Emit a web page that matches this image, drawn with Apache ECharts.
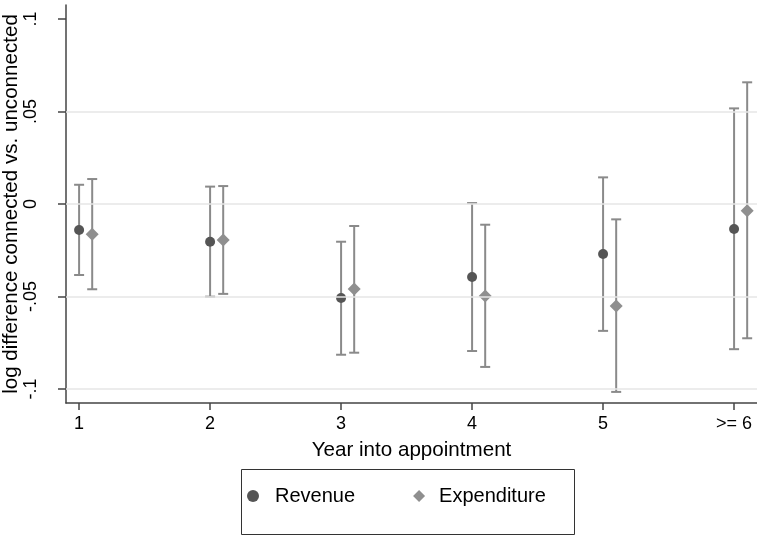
<!DOCTYPE html>
<html>
<head>
<meta charset="utf-8">
<script src="https://cdn.jsdelivr.net/npm/echarts@6/dist/echarts.min.js"></script>
<style>
html,body{margin:0;padding:0;background:#fff;}
#chart{width:757px;height:536px;}
</style>
</head>
<body>
<div id="chart"></div>
<script>
// ---- data ----
const categories = ['1', '2', '3', '4', '5', '>= 6'];
const revenue      = [-0.0141, -0.0204, -0.0508, -0.0395, -0.0270, -0.0135];
const revenueLow   = [-0.0384, -0.0501, -0.0815, -0.0795, -0.0686, -0.0785];
const revenueHigh  = [ 0.0104,  0.0094, -0.0204,  0.0005,  0.0144,  0.0517];
const expenditure     = [-0.0164, -0.0195, -0.0459, -0.0497, -0.0551, -0.0036];
const expenditureLow  = [-0.0461, -0.0486, -0.0804, -0.0881, -0.1016, -0.0726];
const expenditureHigh = [ 0.0135,  0.0097, -0.0119, -0.0112, -0.0083,  0.0658];
const yTickValues = [-0.1, -0.05, 0, 0.05, 0.1];
const yTickLabels = ['-.1', '-.05', '0', '.05', '.1'];
const gridLineValues = [-0.1, -0.05, 0, 0.05];
const dodge = 0.1;

const xPos = categories.map((c, i) => i + 1);
const revPts = revenue.map((v, i) => [xPos[i], v]);
const expPts = expenditure.map((v, i) => [xPos[i] + dodge, v]);
const revBars = revenue.map((v, i) => [xPos[i], revenueLow[i], revenueHigh[i]]);
const expBars = expenditure.map((v, i) => [xPos[i] + dodge, expenditureLow[i], expenditureHigh[i]]);

const FONT = '"Liberation Sans", Arial, sans-serif';
const barColor = '#8a8a8a';

function errRender(params, api) {
  const x = api.value(0), lo = api.value(1), hi = api.value(2);
  const a = api.coord([x, hi]);
  const b = api.coord([x, lo]);
  const w = 5;
  const st = { stroke: barColor, lineWidth: 2 };
  return {
    type: 'group',
    children: [
      { type: 'line', shape: { x1: a[0], y1: a[1], x2: b[0], y2: b[1] }, style: st },
      { type: 'line', shape: { x1: a[0] - w, y1: a[1], x2: a[0] + w, y2: a[1] }, style: st },
      { type: 'line', shape: { x1: b[0] - w, y1: b[1], x2: b[0] + w, y2: b[1] }, style: st }
    ]
  };
}

const chart = echarts.init(document.getElementById('chart'), null, { renderer: 'canvas' });
chart.setOption({
  animation: false,
  backgroundColor: '#ffffff',
  textStyle: { fontFamily: FONT },
  grid: { left: 66, right: 0, top: 5, bottom: 133, containLabel: false, outerBoundsMode: 'none' },
  xAxis: {
    type: 'value',
    min: 0.9,
    max: 6.175,
    name: 'Year into appointment',
    nameLocation: 'middle',
    nameGap: 37,
    nameMoveOverlap: false,
    nameTextStyle: { fontSize: 20.6, color: '#000', fontFamily: FONT },
    axisLine: { show: true, onZero: false, lineStyle: { color: '#444', width: 1.5 } },
    axisTick: { show: true, length: 7, customValues: xPos, lineStyle: { color: '#444', width: 1.5 } },
    axisLabel: {
      customValues: xPos,
      margin: 12,
      fontSize: 18,
      color: '#000',
      fontFamily: FONT,
      formatter: v => categories[Math.round(v) - 1]
    },
    splitLine: { show: false }
  },
  yAxis: {
    type: 'value',
    min: -0.1076,
    max: 0.1076,
    name: 'log difference connected vs. unconnected',
    nameLocation: 'middle',
    nameGap: 44,
    nameRotate: 90,
    nameMoveOverlap: false,
    nameTextStyle: { fontSize: 20.6, color: '#000', fontFamily: FONT },
    axisLine: { show: true, onZero: false, lineStyle: { color: '#444', width: 1.5 } },
    axisTick: { show: true, length: 8, customValues: yTickValues, lineStyle: { color: '#444', width: 1.5 } },
    axisLabel: {
      customValues: yTickValues,
      rotate: 90,
      margin: 26,
      fontSize: 18,
      color: '#000',
      fontFamily: FONT,
      formatter: v => {
        let best = 0;
        yTickValues.forEach((t, i) => { if (Math.abs(t - v) < Math.abs(yTickValues[best] - v)) best = i; });
        return yTickLabels[best];
      }
    },
    splitLine: { show: false }
  },
  legend: {
    data: [
      { name: 'Revenue', icon: 'circle', textStyle: { padding: [0, 0, 0, 11] } },
      { name: 'Expenditure', icon: 'diamond', textStyle: { padding: [0, 0, 0, 9] } }
    ],
    left: 247,
    top: 486,
    padding: 0,
    itemWidth: 12,
    itemHeight: 12,
    itemGap: 58,
    textStyle: { fontSize: 20, color: '#000', fontFamily: FONT }
  },
  graphic: [{
    type: 'rect',
    shape: { x: 241.5, y: 469.5, width: 333, height: 65 },
    style: { fill: 'none', stroke: '#333', lineWidth: 1 },
    silent: true
  }],
  series: [
    {
      type: 'line',
      data: [],
      silent: true,
      markLine: {
        silent: true,
        symbol: ['none', 'none'],
        label: { show: false },
        lineStyle: { color: '#e6e6e6', width: 1.5, type: 'solid' },
        data: gridLineValues.map(v => ({ yAxis: v }))
      }
    },
    { name: 'errRev', type: 'custom', renderItem: errRender, data: revBars, encode: { x: 0, y: [1, 2] }, z: 2 },
    { name: 'errExp', type: 'custom', renderItem: errRender, data: expBars, encode: { x: 0, y: [1, 2] }, z: 2 },
    {
      name: 'Revenue', type: 'scatter', data: revPts, symbol: 'circle', symbolSize: 10,
      itemStyle: { color: '#555555', opacity: 1 }, z: 3
    },
    {
      name: 'Expenditure', type: 'scatter', data: expPts, symbol: 'diamond', symbolSize: 13,
      itemStyle: { color: '#8f8f8f', opacity: 1 }, z: 3
    }
  ]
});
</script>
</body>
</html>
